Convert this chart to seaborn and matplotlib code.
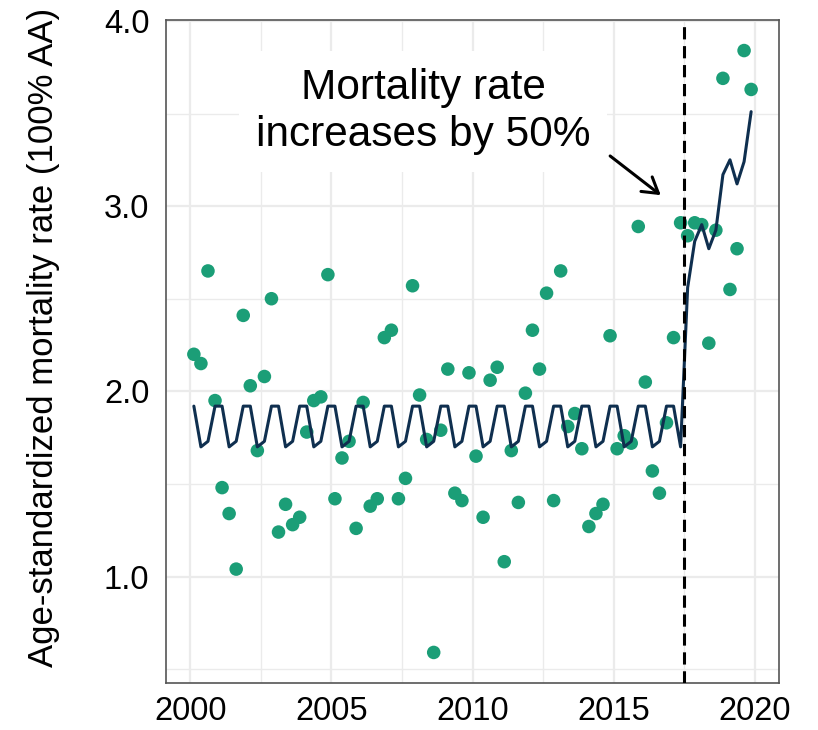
import matplotlib
matplotlib.use("Agg")
import matplotlib.pyplot as plt
from matplotlib.ticker import MultipleLocator, FixedLocator
import pandas as pd
import seaborn as sns

# Quarterly series, 2000 Q1 to 2019 Q4 (plotted at mid-quarter)
years = list(range(2000, 2020))
quarters = [1, 2, 3, 4]

# Observed age-standardized mortality rate, one row per year (Q1..Q4)
observed = [
    2.20, 2.15, 2.65, 1.95,
    1.48, 1.34, 1.04, 2.41,
    2.03, 1.68, 2.08, 2.50,
    1.24, 1.39, 1.28, 1.32,
    1.78, 1.95, 1.97, 2.63,
    1.42, 1.64, 1.73, 1.26,
    1.94, 1.38, 1.42, 2.29,
    2.33, 1.42, 1.53, 2.57,
    1.98, 1.74, 0.59, 1.79,
    2.12, 1.45, 1.41, 2.10,
    1.65, 1.32, 2.06, 2.13,
    1.08, 1.68, 1.40, 1.99,
    2.33, 2.12, 2.53, 1.41,
    2.65, 1.81, 1.88, 1.69,
    1.27, 1.34, 1.39, 2.30,
    1.69, 1.76, 1.72, 2.89,
    2.05, 1.57, 1.45, 1.83,
    2.29, 2.91, 2.84, 2.91,
    2.90, 2.26, 2.87, 3.69,
    2.55, 2.77, 3.84, 3.63,
]

# Underlying seasonal rate, one row per year (Q1..Q4)
expected = [
    1.92, 1.70, 1.73, 1.92,
    1.92, 1.70, 1.73, 1.92,
    1.92, 1.70, 1.73, 1.92,
    1.92, 1.70, 1.73, 1.92,
    1.92, 1.70, 1.73, 1.92,
    1.92, 1.70, 1.73, 1.92,
    1.92, 1.70, 1.73, 1.92,
    1.92, 1.70, 1.73, 1.92,
    1.92, 1.70, 1.73, 1.92,
    1.92, 1.70, 1.73, 1.92,
    1.92, 1.70, 1.73, 1.92,
    1.92, 1.70, 1.73, 1.92,
    1.92, 1.70, 1.73, 1.92,
    1.92, 1.70, 1.73, 1.92,
    1.92, 1.70, 1.73, 1.92,
    1.92, 1.70, 1.73, 1.92,
    1.92, 1.70, 1.73, 1.92,
    1.92, 1.70, 2.56, 2.81,
    2.90, 2.77, 2.87, 3.17,
    3.25, 3.12, 3.24, 3.51,
]

change_point = 2017.5
note = "Mortality rate\nincreases by 50%"

df = pd.DataFrame({
    "time": [y + (q - 0.5) / 4 for y in years for q in quarters],
    "observed": observed,
    "expected": expected,
})

sns.set_theme(style="white")
plt.rcParams["font.family"] = ["Liberation Sans", "DejaVu Sans"]

fig = plt.figure(figsize=(8.18, 7.3), dpi=100)
ax = fig.add_axes([166 / 818, 1 - 683 / 730, (779 - 166) / 818, (683 - 20) / 730])

sns.scatterplot(data=df, x="time", y="observed", ax=ax, color="#1b9e77",
                s=95, edgecolor="none", linewidth=0, zorder=3)
sns.lineplot(data=df, x="time", y="expected", ax=ax, color="#0f2f4f",
             linewidth=2.2, zorder=4)
ax.axvline(change_point, color="black", linewidth=2.2,
           linestyle=(0, (4, 2.2)), zorder=5)

ax.set_xlim(1999.1375, 2020.8625)
ax.set_ylim(0.425, 4.005)
ax.xaxis.set_major_locator(MultipleLocator(5))
ax.xaxis.set_minor_locator(MultipleLocator(2.5))
ax.yaxis.set_major_locator(FixedLocator([1.0, 2.0, 3.0, 4.0]))
ax.yaxis.set_minor_locator(FixedLocator([0.5, 1.5, 2.5, 3.5]))
ax.set_yticklabels(["1.0", "2.0", "3.0", "4.0"])

ax.grid(which="major", color="#ebebeb", linewidth=1.6, zorder=0)
ax.grid(which="minor", color="#ebebeb", linewidth=1.0, zorder=0)
ax.set_axisbelow(True)
ax.tick_params(axis="both", which="both", length=0, labelsize=23.5,
               labelcolor="black")
ax.tick_params(axis="x", pad=9)
ax.tick_params(axis="y", pad=12)
for sp in ax.spines.values():
    sp.set_visible(True)
    sp.set_color("#555555")
    sp.set_linewidth(1.2)

ax.set_xlabel("")
ax.set_ylabel("")
fig.text(44 / 818, 1 - 337 / 730, "Age-standardized mortality rate (100% AA)",
         rotation=90, ha="center", va="center", fontsize=25, color="black")

ax.text(2008.25, 3.51, note, ha="center", va="center", fontsize=30.5,
        color="black", linespacing=1.22, zorder=6,
        bbox=dict(facecolor="white", edgecolor="none", boxstyle="square,pad=0.4"))
ax.annotate("", xy=(2016.75, 3.05), xytext=(2014.8, 3.28),
            arrowprops=dict(arrowstyle="->,head_length=0.9,head_width=0.55",
                            color="black", lw=2.2), zorder=6)

fig.savefig("out.png", dpi=100)
